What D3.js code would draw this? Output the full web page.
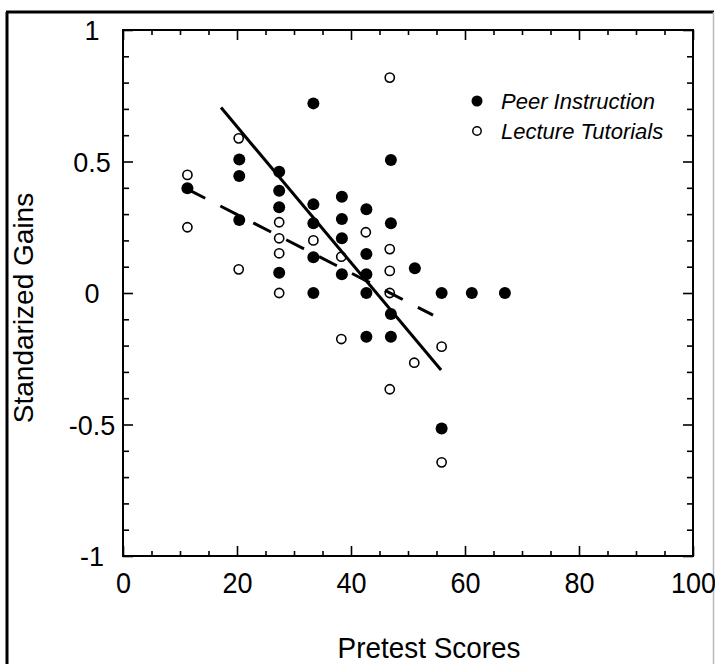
<!DOCTYPE html>
<html>
<head>
<meta charset="utf-8">
<script src="https://cdn.jsdelivr.net/npm/d3@7"></script>
<style>
  body { margin: 0; background: #fff; }
  svg { display: block; font-family: "Liberation Sans", Arial, sans-serif; }
</style>
</head>
<body>
<div id="container"></div>
<script>
// pretest score, standardized gain
const peerInstruction = [
  [11.3, 0.398], [20.4, 0.508], [20.4, 0.445], [20.4, 0.278],
  [27.4, 0.461], [27.4, 0.389], [27.4, 0.326], [27.4, 0.077],
  [33.4, 0.721], [33.4, 0.337], [33.4, 0.265], [33.4, 0.136], [33.4, 0],
  [38.4, 0.366], [38.4, 0.281], [38.4, 0.208], [38.4, 0.071],
  [42.7, 0.318], [42.7, 0.148], [42.7, 0.071], [42.7, 0], [42.7, -0.166],
  [47, 0.506], [47, 0.265], [47, -0.08], [47, -0.166],
  [51.2, 0.094], [55.9, 0], [55.9, -0.515], [61.2, 0], [67, 0]
];
const lectureTutorials = [
  [11.3, 0.449], [11.3, 0.25], [20.3, 0.588], [20.3, 0.09],
  [27.4, 0.269], [27.4, 0.208], [27.4, 0.151], [27.4, 0],
  [33.4, 0.2], [38.3, 0.138], [38.3, -0.175], [42.6, 0.231],
  [46.8, 0.819], [46.8, 0.167], [46.8, 0.084], [46.8, 0], [46.8, -0.366],
  [51.1, -0.265], [55.9, -0.204], [55.9, -0.644]
];
// fit lines (end points)
const peerFit = [[17.2, 0.705], [55.8, -0.293]];
const lectureFit = [[11.3, 0.395], [54.4, -0.084]];

const seriesNames = ["Peer Instruction", "Lecture Tutorials"];
const xMajor = [0, 20, 40, 60, 80, 100];
const xMinor = d3.range(5, 100, 5).filter(v => v % 20 !== 0);
const yMajor = [-1, -0.5, 0, 0.5, 1];
const yMinor = [-0.9, -0.8, -0.7, -0.6, -0.4, -0.3, -0.2, -0.1, 0.1, 0.2, 0.3, 0.4, 0.6, 0.7, 0.8, 0.9];

const width = 715, height = 664;
const margin = {left: 123, right: 22, top: 30, bottom: 108};

const svg = d3.select("#container")
  .append("svg")
  .attr("width", width)
  .attr("height", height);

// outer frame of the figure
svg.append("line").attr("x1", 7).attr("x2", 7).attr("y1", 12).attr("y2", height)
  .attr("stroke", "#000").attr("stroke-width", 3);
svg.append("line").attr("x1", 6).attr("x2", 714).attr("y1", 12).attr("y2", 12)
  .attr("stroke", "#000").attr("stroke-width", 3);
svg.append("line").attr("x1", 713.5).attr("x2", 713.5).attr("y1", 12).attr("y2", height)
  .attr("stroke", "#bbb").attr("stroke-width", 1.5);

const x = d3.scaleLinear().domain([0, 100]).range([margin.left, width - margin.right]);
const y = d3.scaleLinear().domain([-1, 1]).range([height - margin.bottom, margin.top]);

const x0 = x(0), x1 = x(100), y0 = y(-1), y1 = y(1);

function styleAxis(g) {
  g.select(".domain").remove();
  g.selectAll(".tick line").attr("stroke", "#000").attr("stroke-width", 1.6);
}

// bottom axis
svg.append("g").attr("transform", `translate(0,${y0})`)
  .call(d3.axisBottom(x).tickValues(xMinor).tickSize(-5).tickFormat(""))
  .call(styleAxis);
const gxb = svg.append("g").attr("transform", `translate(0,${y0})`)
  .call(d3.axisBottom(x).tickValues(xMajor).tickSize(-10).tickFormat(d => String(d)))
  .call(styleAxis);
gxb.selectAll(".tick text")
  .attr("fill", "#000")
  .attr("font-size", 30)
  .attr("y", 0).attr("dy", 0)
  .attr("transform", "translate(0,37) scale(0.9,1)");

// top axis
svg.append("g").attr("transform", `translate(0,${y1})`)
  .call(d3.axisTop(x).tickValues(xMinor).tickSize(-5).tickFormat(""))
  .call(styleAxis);
svg.append("g").attr("transform", `translate(0,${y1})`)
  .call(d3.axisTop(x).tickValues(xMajor).tickSize(-10).tickFormat(""))
  .call(styleAxis);

// left axis
svg.append("g").attr("transform", `translate(${x0},0)`)
  .call(d3.axisLeft(y).tickValues(yMinor).tickSize(-6).tickFormat(""))
  .call(styleAxis);
const gyl = svg.append("g").attr("transform", `translate(${x0},0)`)
  .call(d3.axisLeft(y).tickValues(yMajor).tickSize(-10).tickFormat(d => String(d)))
  .call(styleAxis);
gyl.selectAll(".tick text")
  .attr("fill", "#000")
  .attr("font-size", 27)
  .attr("text-anchor", "middle")
  .attr("x", -31)
  .attr("dy", "0.36em");

// right axis
svg.append("g").attr("transform", `translate(${x1},0)`)
  .call(d3.axisRight(y).tickValues(yMinor).tickSize(-6).tickFormat(""))
  .call(styleAxis);
svg.append("g").attr("transform", `translate(${x1},0)`)
  .call(d3.axisRight(y).tickValues(yMajor).tickSize(-10).tickFormat(""))
  .call(styleAxis);

// plot frame
svg.append("rect")
  .attr("x", x0).attr("y", y1)
  .attr("width", x1 - x0).attr("height", y0 - y1)
  .attr("fill", "none").attr("stroke", "#000").attr("stroke-width", 2);

// axis titles
svg.append("text")
  .attr("transform", "translate(429,658) scale(0.93,1)")
  .attr("text-anchor", "middle")
  .attr("font-size", 30)
  .text("Pretest Scores");

svg.append("text")
  .attr("transform", "translate(33,308) rotate(-90)")
  .attr("text-anchor", "middle")
  .attr("font-size", 28)
  .text("Standarized Gains");

// markers
svg.append("g").selectAll("circle")
  .data(lectureTutorials)
  .enter()
  .append("circle")
  .attr("cx", d => x(d[0]))
  .attr("cy", d => y(d[1]))
  .attr("r", 4.6)
  .attr("fill", "#fff")
  .attr("stroke", "#000")
  .attr("stroke-width", 1.6);

svg.append("g").selectAll("circle")
  .data(peerInstruction)
  .enter()
  .append("circle")
  .attr("cx", d => x(d[0]))
  .attr("cy", d => y(d[1]))
  .attr("r", 6)
  .attr("fill", "#000");

// fit lines
const line = d3.line().x(d => x(d[0])).y(d => y(d[1]));
svg.append("path")
  .attr("d", line(peerFit))
  .attr("fill", "none")
  .attr("stroke", "#000")
  .attr("stroke-width", 3);
svg.append("path")
  .attr("d", line(lectureFit))
  .attr("fill", "none")
  .attr("stroke", "#000")
  .attr("stroke-width", 3)
  .attr("stroke-dasharray", "20,17");

// legend
const legend = svg.append("g").attr("transform", "translate(477,101)");
seriesNames.forEach((name, i) => {
  const row = legend.append("g").attr("transform", `translate(0,${i * 30})`);
  if (i === 0) {
    row.append("circle").attr("r", 5.5).attr("fill", "#000");
  } else {
    row.append("circle").attr("r", 4.2).attr("fill", "#fff")
      .attr("stroke", "#000").attr("stroke-width", 1.5);
  }
  row.append("text")
    .attr("x", 24)
    .attr("y", 8)
    .attr("font-size", 22)
    .attr("font-style", "italic")
    .text(name);
});
</script>
</body>
</html>
